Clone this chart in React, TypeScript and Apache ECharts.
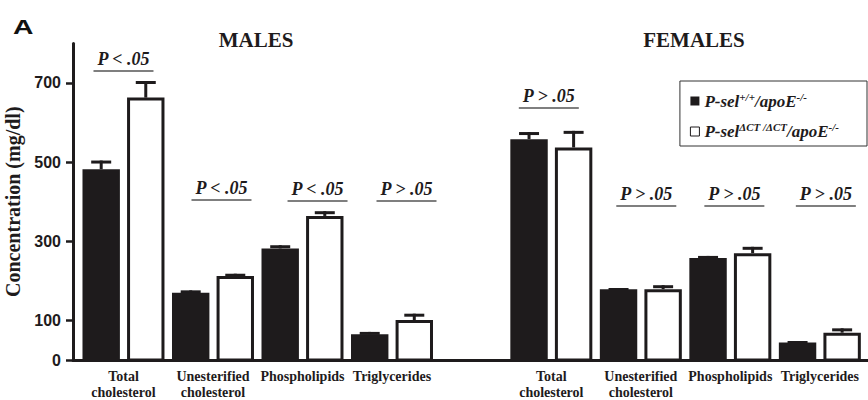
import React, { useEffect, useRef } from 'react';
import * as echarts from 'echarts';

// ---- data ----
const categories = ['Total\ncholesterol', 'Unesterified\ncholesterol', 'Phospholipids', 'Triglycerides'];
const groupTitles = ['MALES', 'FEMALES'];
const seriesNames = ['P-sel+/+/apoE-/-', 'P-selΔCT/ΔCT/apoE-/-'];

const maleWT = [482, 170, 282, 65];
const maleWTErr = [22, 6, 8, 6];
const maleCT = [663, 212, 364, 101];
const maleCTErr = [42, 6, 12, 16];

const femaleWT = [558, 179, 258, 44];
const femaleWTErr = [18, 3, 5, 4];
const femaleCT = [537, 179, 270, 69];
const femaleCTErr = [42, 10, 16, 11];

const maleP = ['P < .05', 'P < .05', 'P < .05', 'P > .05'];
const femaleP = ['P > .05', 'P > .05', 'P > .05', 'P > .05'];

const yTicks = [0, 100, 300, 500, 700];

// annotation placement (axis units)
const malePLevel = [730, 404, 402, 402];
const femalePLevel = [637, 389, 389, 389];
const malePShift = [0, 0.095, 0.168, 0.162];
const femalePShift = [-0.028, 0.061, 0.045, 0.067];

// ---- layout constants ----
const FEMALE_START = 4.78;
const X_MIN = -0.564;
const X_MAX = 8.318;
const BAR_W = 0.418;
const PAIR_OFF = 0.249;
const DARK = '#1e1b1c';
const SERIF = 'Liberation Serif';
const SANS = 'Liberation Sans';

const groupPos = (g: number, i: number) => i + (g === 1 ? FEMALE_START : 0);
const allPositions: number[] = [];
const allLabels: string[] = [];
[0, 1].forEach((g) => categories.forEach((c, i) => { allPositions.push(groupPos(g, i)); allLabels.push(c); }));

function barData(male: number[], maleErr: number[], female: number[], femaleErr: number[], side: number) {
  const out: number[][] = [];
  male.forEach((v, i) => out.push([groupPos(0, i) + side * PAIR_OFF, v, maleErr[i]]));
  female.forEach((v, i) => out.push([groupPos(1, i) + side * PAIR_OFF, v, femaleErr[i]]));
  return out;
}

const pTexts = [...maleP, ...femaleP];
const pData: number[][] = [];
maleP.forEach((_, i) => pData.push([groupPos(0, i) + malePShift[i], malePLevel[i]]));
femaleP.forEach((_, i) => pData.push([groupPos(1, i) + femalePShift[i], femalePLevel[i]]));

function makeBarRenderer(hollow: boolean) {
  return (params: any, api: any) => {
    const x = api.value(0);
    const v = api.value(1);
    const e = api.value(2);
    const base = api.coord([x, 0]);
    const top = api.coord([x, v]);
    const errTop = api.coord([x, v + e]);
    const w = api.size([BAR_W, 0])[0];
    const cx = top[0];
    const children: any[] = [];
    children.push({
      type: 'line',
      shape: { x1: cx, y1: top[1], x2: cx, y2: errTop[1] },
      style: { stroke: DARK, lineWidth: 3 },
    });
    children.push({
      type: 'line',
      shape: { x1: cx - 10, y1: errTop[1] + 1.5, x2: cx + 10, y2: errTop[1] + 1.5 },
      style: { stroke: DARK, lineWidth: 3 },
    });
    if (hollow) {
      children.push({
        type: 'rect',
        shape: { x: cx - w / 2 + 1.5, y: top[1] + 1.5, width: w - 3, height: base[1] - top[1] - 1.5 },
        style: { fill: '#fff', stroke: DARK, lineWidth: 3 },
      });
    } else {
      children.push({
        type: 'rect',
        shape: { x: cx - w / 2, y: top[1], width: w, height: base[1] - top[1] },
        style: { fill: DARK },
      });
    }
    return { type: 'group', children };
  };
}

const richText: any = {
  t: { fontFamily: SERIF, fontWeight: 'bold', fontStyle: 'italic', fontSize: 17, lineHeight: 20, color: DARK },
  s: { fontFamily: SERIF, fontWeight: 'bold', fontStyle: 'italic', fontSize: 11, lineHeight: 12, verticalAlign: 'top', color: DARK },
};

export default function App() {
  const ref = useRef<HTMLDivElement>(null);
  useEffect(() => {
    if (!ref.current) return;
    const chart = echarts.init(ref.current, null, { renderer: 'svg' });
    chart.setOption({
      animation: false,
      backgroundColor: '#fff',
      textStyle: { fontFamily: SERIF },
      grid: { left: 73, right: 0, top: 43.4, bottom: 40, containLabel: false, outerBoundsMode: 'none' },
      xAxis: {
        type: 'value',
        min: X_MIN,
        max: X_MAX,
        axisLine: { show: true, onZero: false, lineStyle: { color: DARK, width: 3 } },
        axisTick: { show: false },
        splitLine: { show: false },
        axisLabel: {
          customValues: allPositions,
          formatter: (val: number) => {
            const idx = allPositions.findIndex((p) => Math.abs(p - val) < 0.01);
            return idx >= 0 ? allLabels[idx] : '';
          },
          fontFamily: SERIF,
          fontWeight: 'bold',
          fontSize: 14,
          lineHeight: 16,
          color: DARK,
          margin: 8,
        },
      },
      yAxis: {
        type: 'value',
        min: 0,
        max: 800,
        interval: 100,
        name: 'Concentration (mg/dl)',
        nameLocation: 'middle',
        nameRotate: 90,
        nameGap: 46,
        nameTextStyle: { fontFamily: SERIF, fontWeight: 'bold', fontSize: 20, color: DARK },
        axisLine: { show: true, onZero: false, lineStyle: { color: DARK, width: 3 } },
        axisTick: { show: true, length: 7, customValues: yTicks, lineStyle: { color: DARK, width: 2.5 } },
        splitLine: { show: false },
        axisLabel: {
          customValues: yTicks,
          fontFamily: SANS,
          fontWeight: 'bold',
          fontSize: 16,
          color: DARK,
          margin: 12,
        },
      },
      legend: {
        data: [
          { name: seriesNames[0], icon: 'rect', itemStyle: { color: DARK } },
          { name: seriesNames[1], icon: 'rect', itemStyle: { color: '#fff', borderColor: DARK, borderWidth: 1 } },
        ],
        orient: 'vertical',
        right: 1,
        top: 81,
        itemWidth: 9,
        itemHeight: 9,
        itemGap: 12,
        padding: [10, 28, 6, 10],
        borderColor: '#333',
        borderWidth: 1,
        selectedMode: false,
        formatter: (name: string) =>
          name === seriesNames[0]
            ? '{t|P-sel}{s|+/+}{t|/apoE}{s|-/-}'
            : '{t|P-sel}{s|ΔCT /ΔCT}{t|/apoE}{s|-/-}',
        textStyle: { fontFamily: SERIF, rich: richText },
      },
      graphic: [
        {
          type: 'text', x: 13, y: 16, scaleX: 1.35,
          style: { text: 'A', fontFamily: SANS, fontWeight: 'bold', fontSize: 21, fill: '#111' },
        },
        {
          type: 'text', x: 256, y: 40,
          style: { text: groupTitles[0], textAlign: 'center', textVerticalAlign: 'middle', fontFamily: SERIF, fontWeight: 'bold', fontSize: 21, fill: DARK },
        },
        {
          type: 'text', x: 694, y: 40,
          style: { text: groupTitles[1], textAlign: 'center', textVerticalAlign: 'middle', fontFamily: SERIF, fontWeight: 'bold', fontSize: 21, fill: DARK },
        },
      ],
      series: [
        {
          name: seriesNames[0],
          type: 'custom',
          renderItem: makeBarRenderer(false),
          itemStyle: { color: DARK },
          data: barData(maleWT, maleWTErr, femaleWT, femaleWTErr, -1),
          z: 3,
        },
        {
          name: seriesNames[1],
          type: 'custom',
          renderItem: makeBarRenderer(true),
          itemStyle: { color: '#fff' },
          data: barData(maleCT, maleCTErr, femaleCT, femaleCTErr, 1),
          z: 3,
        },
        {
          name: 'pvalues',
          type: 'custom',
          renderItem: (params: any, api: any) => {
            const p = api.coord([api.value(0), api.value(1)]);
            return {
              type: 'group',
              children: [
                {
                  type: 'text',
                  x: p[0], y: p[1] - 3,
                  style: {
                    text: pTexts[params.dataIndex],
                    textAlign: 'center',
                    textVerticalAlign: 'bottom',
                    fontFamily: SERIF, fontWeight: 'bold', fontStyle: 'italic', fontSize: 18, fill: DARK,
                  },
                },
                {
                  type: 'line',
                  shape: { x1: p[0] - 30, y1: p[1], x2: p[0] + 30, y2: p[1] },
                  style: { stroke: '#555', lineWidth: 1.5 },
                },
              ],
            };
          },
          data: pData,
          z: 4,
        },
      ],
    });
    return () => chart.dispose();
  }, []);
  return <div ref={ref} style={{ position: 'absolute', left: 0, top: 0, width: 868, height: 400 }} />;
}
